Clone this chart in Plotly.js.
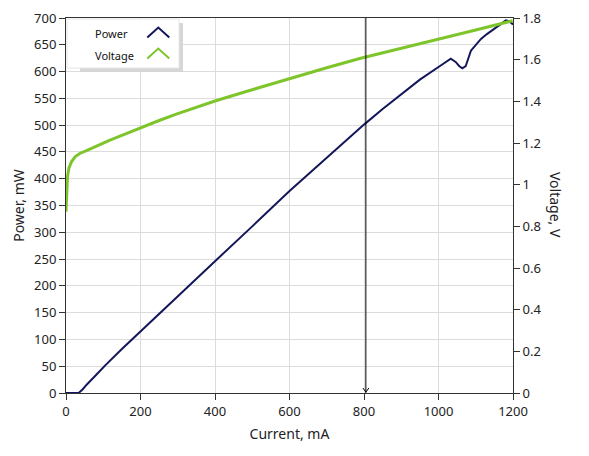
<!DOCTYPE html>
<html>
<head>
<meta charset="utf-8">
<script src="https://cdn.plot.ly/plotly-3.0.1.min.js"></script>
<style>html,body{margin:0;padding:0;background:#fff;}#chart{width:589px;height:456px;}</style>
</head>
<body>
<div id="chart"></div>
<script>
// ---- data ----
const powerCurrent = [0, 34, 45, 56, 80, 106, 150, 200, 250, 290, 350, 400, 500, 600, 700, 800, 850, 907, 950, 1003, 1020, 1033, 1046, 1056, 1064, 1073, 1087, 1100, 1114, 1130, 1150, 1165, 1181, 1190, 1196, 1200];
const powerMW      = [0, 0, 7, 16, 33, 52, 82, 115, 148, 174, 214, 246, 311, 377, 439, 501, 530, 561, 585, 610, 618, 624, 618, 610, 606, 610, 639, 650, 661, 670, 680, 688, 695.5, 694, 690, 688];
const voltageCurrent = [0, 1, 2, 4, 8, 15, 25, 38, 55, 73, 95, 118, 160, 200, 250, 298, 350, 402, 504, 603, 700, 791, 900, 1003, 1100, 1199];
const voltageV       = [0.87, 0.95, 0.99, 1.04, 1.08, 1.111, 1.135, 1.151, 1.163, 1.178, 1.196, 1.214, 1.244, 1.274, 1.308, 1.340, 1.372, 1.403, 1.458, 1.511, 1.561, 1.607, 1.654, 1.698, 1.742, 1.787];
const cursorCurrent = 805;
const seriesNames = ["Power", "Voltage"];
const xTitle = "Current, mA";
const yTitle = "Power, mW";
const y2Title = "Voltage, V";

// ---- layout helpers (pixel -> paper) ----
const L = 66, R = 513, T = 18, B = 393;
const px = x => (x - L) / (R - L);
const py = y => (B - y) / (B - T);

const powerColor = "#14165a";
const voltageColor = "#7ec52b";
const font = "Noto Sans, Open Sans, sans-serif";

const traces = [
  {x: voltageCurrent, y: voltageV, yaxis: "y2", type: "scatter", mode: "lines",
   line: {color: voltageColor, width: 3}, name: seriesNames[1], hoverinfo: "skip"},
  {x: powerCurrent, y: powerMW, type: "scatter", mode: "lines",
   line: {color: powerColor, width: 2}, name: seriesNames[0], hoverinfo: "skip"}
];

function chevron(y) {
  return `M ${px(147.3)},${py(y + 10)} L ${px(158.3)},${py(y)} L ${px(169.3)},${py(y + 10)}`;
}

const shapes = [
  {type: "line", xref: "x", yref: "paper", x0: cursorCurrent, x1: cursorCurrent, y0: 0, y1: 1,
   line: {color: "#000", width: 1}},
  {type: "path", xref: "x", yref: "y", xsizemode: "pixel", ysizemode: "pixel",
   xanchor: cursorCurrent, yanchor: 0, path: "M -3,5 L 0,1 L 3,5",
   line: {color: "#000", width: 1}},
  // legend shadow
  {type: "rect", xref: "paper", yref: "paper", x0: px(80), x1: px(183), y0: py(72), y1: py(68),
   fillcolor: "#d6d6d6", line: {width: 0}},
  {type: "rect", xref: "paper", yref: "paper", x0: px(179), x1: px(183), y0: py(72), y1: py(23),
   fillcolor: "#d6d6d6", line: {width: 0}},
  // legend box
  {type: "rect", xref: "paper", yref: "paper", x0: px(67), x1: px(179), y0: py(68), y1: py(19),
   fillcolor: "#ffffff", line: {color: "#e6e6e6", width: 1}},
  {type: "path", xref: "paper", yref: "paper", path: chevron(27.5), line: {color: powerColor, width: 2}},
  {type: "path", xref: "paper", yref: "paper", path: chevron(48.5), line: {color: voltageColor, width: 2}}
];

const annotations = [
  {xref: "paper", yref: "paper", x: px(93), y: py(33), xanchor: "left", yanchor: "middle",
   text: seriesNames[0], showarrow: false, font: {family: font, size: 11, color: "#111"}},
  {xref: "paper", yref: "paper", x: px(93), y: py(55), xanchor: "left", yanchor: "middle",
   text: seriesNames[1], showarrow: false, font: {family: font, size: 11, color: "#111"}},
  {xref: "paper", yref: "paper", x: px(556), y: py(205), xanchor: "center", yanchor: "middle",
   text: y2Title, textangle: 90, showarrow: false, font: {family: font, size: 14, color: "#222"}}
];

const axisCommon = {
  showline: true, linecolor: "#333", linewidth: 1,
  ticks: "outside", ticklen: 6, tickcolor: "#333", tickwidth: 1,
  tickfont: {family: font, size: 13, color: "#222"},
  zeroline: false
};

const layout = {
  width: 589, height: 456,
  margin: {l: L, r: 589 - R, t: T, b: 456 - B},
  paper_bgcolor: "#fff", plot_bgcolor: "#fff",
  showlegend: false,
  font: {family: font, color: "#222"},
  xaxis: Object.assign({}, axisCommon, {
    range: [0, 1200], dtick: 200, tick0: 0, mirror: true,
    showgrid: true, gridcolor: "#dcdcdc",
    title: {text: xTitle, font: {family: font, size: 14, color: "#222"}, standoff: 10}
  }),
  yaxis: Object.assign({}, axisCommon, {
    range: [0, 700], dtick: 50, tick0: 0,
    showgrid: true, gridcolor: "#dcdcdc",
    title: {text: yTitle, font: {family: font, size: 14, color: "#222"}, standoff: 6}
  }),
  yaxis2: Object.assign({}, axisCommon, {
    range: [0, 1.8], dtick: 0.2, tick0: 0,
    overlaying: "y", side: "right", showgrid: false
  }),
  shapes: shapes,
  annotations: annotations
};

Plotly.newPlot("chart", traces, layout, {displayModeBar: false, staticPlot: true});
</script>
</body>
</html>
